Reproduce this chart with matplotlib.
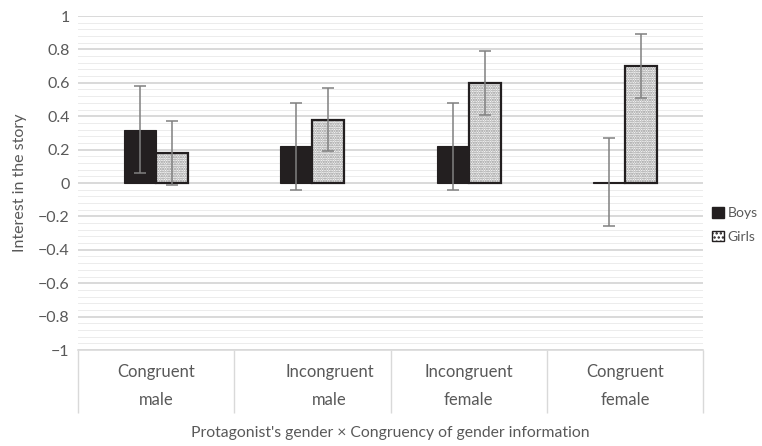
import matplotlib
matplotlib.use("Agg")
import matplotlib.pyplot as plt
import numpy as np
from matplotlib.ticker import MultipleLocator
from matplotlib.transforms import blended_transform_factory, ScaledTranslation
import matplotlib.patches as mpatches

categories = ["Congruent\nmale", "Incongruent\nmale", "Incongruent\nfemale", "Congruent\nfemale"]
label_nudge = [0.0, 0.11, 0.0, 0.0]
boys = [0.32, 0.22, 0.22, 0.005]
girls = [0.18, 0.38, 0.60, 0.70]
boys_err = [0.26, 0.26, 0.26, 0.265]
girls_err = [0.19, 0.19, 0.19, 0.19]
yticks = [1, 0.8, 0.6, 0.4, 0.2, 0, -0.2, -0.4, -0.6, -0.8, -1]

FONT = ["Lato", "DejaVu Sans"]
plt.rcParams['font.family'] = FONT
plt.rcParams['hatch.linewidth'] = 1.1
TXT = "#595959"

fig = plt.figure(figsize=(7.62, 4.46), dpi=100)
ax = fig.add_axes([0.1024, 0.2152, 0.8202, 0.7489])

x = np.arange(len(categories)) + 0.5
w = 0.205

ax.set_ylim(-1, 1)
ax.set_xlim(0, len(categories))
ax.yaxis.set_major_locator(MultipleLocator(0.2))
ax.yaxis.set_minor_locator(MultipleLocator(0.04))
ax.grid(axis='y', which='major', color='#d9d9d9', lw=1.4, zorder=0)
ax.grid(axis='y', which='minor', color='#ececec', lw=0.7, zorder=0)
ax.set_axisbelow(True)

ax.bar(x - w/2, boys, w, color='#231f20', edgecolor='#231f20', lw=0.8, zorder=3)
ax.bar(x + w/2, girls, w, color='white', edgecolor='#8c8c8c', hatch='.......', lw=0, zorder=3)
ax.bar(x + w/2, girls, w, color='none', edgecolor='#231f20', lw=1.6, zorder=4)

ax.errorbar(x - w/2, boys, yerr=boys_err, fmt='none', ecolor='#808080', elinewidth=1.1, capsize=4, capthick=1.1, zorder=5)
ax.errorbar(x + w/2, girls, yerr=girls_err, fmt='none', ecolor='#808080', elinewidth=1.1, capsize=4, capthick=1.1, zorder=5)

for s in ['top', 'right', 'left']:
    ax.spines[s].set_visible(False)
ax.spines['bottom'].set_color('#d9d9d9')
ax.spines['bottom'].set_linewidth(1.2)

ax.set_xticks(np.arange(len(categories) + 1))
ax.set_xticklabels([])
ax.tick_params(axis='x', which='major', length=45, width=1.0, color='#d9d9d9', direction='out')
ax.tick_params(axis='y', which='both', length=0, labelsize=11.5, labelcolor=TXT, pad=6)
ax.set_yticks(yticks)
ax.set_yticklabels([("%g" % t).replace('-', '\u2212') for t in yticks])

trans = blended_transform_factory(ax.transData, ax.transAxes)
for xi, lab, dx in zip(x, categories, label_nudge):
    ax.text(xi + dx, 0, lab, transform=trans + ScaledTranslation(0, -0.36, fig.dpi_scale_trans),
            ha='center', va='center', fontsize=12, color=TXT, linespacing=1.85)

ax.set_ylabel("Interest in the story", fontsize=11.5, color=TXT, labelpad=8)
fig.text((78 + 703) / 2 / 762, 1 - 433 / 446, "Protagonist's gender \u00d7 Congruency of gender information",
         ha='center', va='center', fontsize=11.3, color=TXT)

h_boys = mpatches.Patch(facecolor='#231f20', edgecolor='#231f20')
h_girls = mpatches.Patch(facecolor='white', edgecolor='#231f20', hatch='....', lw=1)
fig.legend([h_boys, h_girls], ['Boys', 'Girls'], loc='center left', bbox_to_anchor=(0.935, 1 - 225 / 446),
           frameon=False, fontsize=10, labelcolor=TXT, handlelength=0.8, handleheight=0.8,
           handletextpad=0.3, labelspacing=0.8, borderaxespad=0, borderpad=0)

fig.savefig("out.png", dpi=100)
